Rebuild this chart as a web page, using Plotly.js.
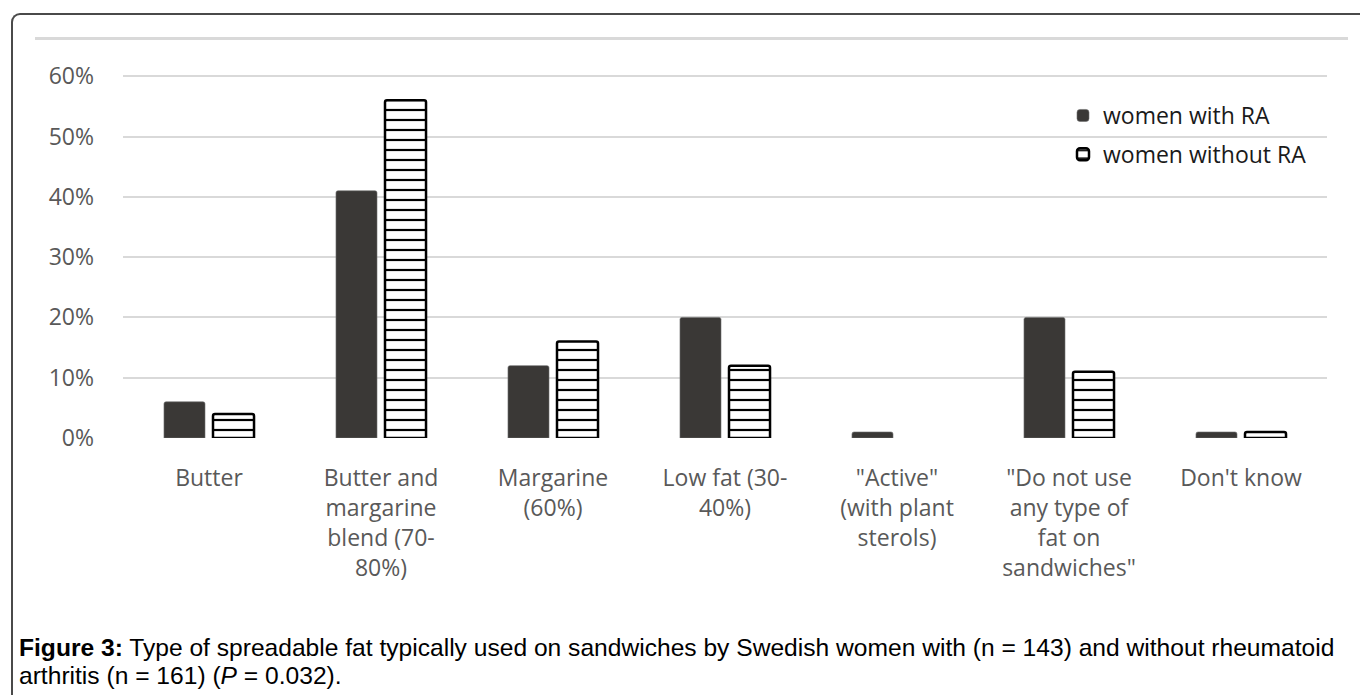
<!DOCTYPE html>
<html>
<head>
<meta charset="utf-8">
<script src="https://cdn.plot.ly/plotly-3.0.1.min.js"></script>
<style>
  html, body { margin: 0; padding: 0; background: #fff; }
  #wrap { position: relative; width: 1360px; height: 695px; overflow: hidden; }
  #chart { position: absolute; left: 0; top: 0; width: 1360px; height: 695px; }
  #frame { position: absolute; left: 11px; top: 13px; width: 1400px; height: 800px;
           border-left: 2px solid #4a4a4a; border-top: 2px solid #4a4a4a;
           border-top-left-radius: 9px; pointer-events: none; }
</style>
</head>
<body>
<div id="wrap">
  <div id="chart"></div>
  <div id="frame"></div>
</div>
<script>
// ---- data ----
const categories = [
  "Butter",
  "Butter and<br>margarine<br>blend (70-<br>80%)",
  "Margarine<br>(60%)",
  "Low fat (30-<br>40%)",
  "\"Active\"<br>(with plant<br>sterols)",
  "\"Do not use<br>any type of<br>fat on<br>sandwiches\"",
  "Don't know"
];
const seriesNames = ["women with RA", "women without RA"];
const withRA = [6, 41, 12, 20, 1, 20, 1];
const withoutRA = [4, 56, 16, 12, 0, 11, 1];
const yTickVals = [0, 10, 20, 30, 40, 50, 60];
const yTickText = ["0%", "10%", "20%", "30%", "40%", "50%", "60%"];
const captionLine1 = "<b>Figure 3:</b> Type of spreadable fat typically used on sandwiches by Swedish women with (n = 143) and without rheumatoid";
const captionLine2 = "arthritis (n = 161) (<i>P</i> = 0.032).";

// ---- layout geometry (pixels) ----
const W = 1360, H = 695;
const M = { l: 123, r: 33, t: 75, b: 257 };
const pw = W - M.l - M.r, ph = H - M.t - M.b;
const px = x => (x - M.l) / pw;
const py = y => (H - M.b - y) / ph;

const labelFont = "'Open Sans', 'DejaVu Sans', sans-serif";
const captionFont = "'Liberation Sans', Arial, sans-serif";

const traces = [
  {
    type: "bar",
    name: seriesNames[0],
    legendgroup: "a",
    x: categories,
    y: withRA,
    marker: { color: "#3a3836", line: { color: "#6e6e6e", width: 0.6 }, cornerradius: 2 },
    hoverinfo: "skip"
  },
  {
    type: "bar",
    name: seriesNames[1],
    legendgroup: "b",
    x: categories,
    y: withoutRA,
    marker: {
      color: "#ffffff",
      line: { color: "#000000", width: withoutRA.map(v => (v === 0 ? 0 : 2.5)) },
      pattern: { shape: "-", fgcolor: "#000000", bgcolor: "#ffffff", size: 10, solidity: 0.22 },
      cornerradius: 2
    },
    hoverinfo: "skip"
  }
];

const layout = {
  width: W, height: H,
  margin: M,
  paper_bgcolor: "rgba(0,0,0,0)",
  plot_bgcolor: "rgba(0,0,0,0)",
  barmode: "group",
  bargap: 0.43,
  bargroupgap: 0.163,
  font: { family: labelFont, color: "#595959", size: 23 },
  xaxis: {
    type: "category",
    showgrid: false,
    zeroline: false,
    showline: false,
    ticks: "",
    ticklabelstandoff: 24,
    tickangle: 0,
    tickfont: { family: labelFont, size: 23, color: "#595959" },
    fixedrange: true
  },
  yaxis: {
    range: [0, 60.2],
    tickvals: yTickVals,
    ticktext: yTickText,
    showgrid: true,
    gridcolor: "#d9d9d9",
    gridwidth: 2,
    zeroline: false,
    showline: false,
    ticks: "",
    ticklabelstandoff: 28,
    tickfont: { family: labelFont, size: 23, color: "#595959" },
    fixedrange: true
  },
  showlegend: true,
  legend: {
    x: px(1063), y: py(94),
    xanchor: "left", yanchor: "top",
    bgcolor: "rgba(0,0,0,0)",
    font: { family: labelFont, size: 23, color: "#1a1a1a" },
    tracegroupgap: 6,
    itemwidth: 30
  },
  shapes: [
    { type: "line", xref: "paper", yref: "paper",
      x0: px(35), x1: px(1348), y0: py(38.5), y1: py(38.5),
      line: { color: "#d9d9d9", width: 3 } }
  ],
  annotations: [
    { xref: "paper", yref: "paper", x: px(17), y: py(647), xanchor: "left", yanchor: "middle",
      text: captionLine1, showarrow: false, align: "left",
      font: { family: captionFont, size: 24.6, color: "#000000" } },
    { xref: "paper", yref: "paper", x: px(17), y: py(675), xanchor: "left", yanchor: "middle",
      text: captionLine2, showarrow: false, align: "left",
      font: { family: captionFont, size: 24.6, color: "#000000" } }
  ]
};

Plotly.newPlot("chart", traces, layout, { staticPlot: true, displayModeBar: false });
</script>
</body>
</html>
